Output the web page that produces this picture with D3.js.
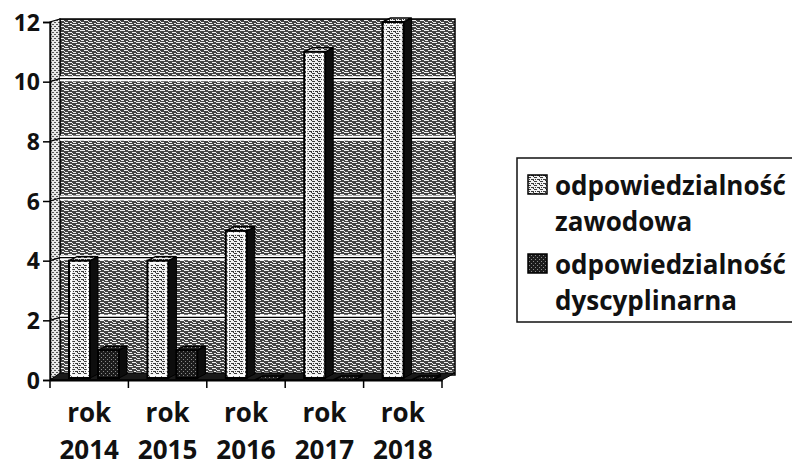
<!DOCTYPE html>
<html><head><meta charset="utf-8">
<script src="https://cdn.jsdelivr.net/npm/d3@7"></script>
<style>
body{margin:0;background:#fff}
text{font-family:"Open Sans",sans-serif;font-weight:700;fill:#111}
</style>
</head><body>
<svg id="c" width="792" height="468"></svg>
<script>
// ---- data ----
const categories = ["2014", "2015", "2016", "2017", "2018"];
const categoryPrefix = "rok";
const seriesNames = ["odpowiedzialność zawodowa", "odpowiedzialność dyscyplinarna"];
const legendLines = [["odpowiedzialność", "zawodowa"], ["odpowiedzialność", "dyscyplinarna"]];
const zawodowa = [4, 4, 5, 11, 12];
const dyscyplinarna = [1, 1, 0, 0, 0];
const yTicks = [0, 2, 4, 6, 8, 10, 12];

// ---- setup ----
const svg = d3.select("#c");
const defs = svg.append("defs");

function pattern(id, w, h, bg, rects, col) {
  const p = defs.append("pattern").attr("id", id).attr("width", w).attr("height", h)
    .attr("patternUnits", "userSpaceOnUse");
  p.append("rect").attr("width", w).attr("height", h).attr("fill", bg);
  rects.forEach(r => p.append("rect").attr("x", r[0]).attr("y", r[1]).attr("width", r[2]).attr("height", r[3]).attr("fill", col));
}
pattern("wall", 8, 6, "#444", [[0,0,5,1],[4,2,4,1],[1,4,3,1],[6,5,2,1],[0,3,1,1]], "#f0f0f0");
pattern("side", 4, 4, "#e8e8e8", [[0,0,2,1],[2,2,2,1]], "#555");
pattern("light", 6, 4, "#f2f2f2", [[0,1,3,1],[3,3,3,1],[5,0,1,1],[1,3,1,1]], "#3a3a3a");
pattern("dark", 4, 4, "#1c1c1c", [[1,1,1,1],[3,3,1,1]], "#8a8a8a");

const y = d3.scaleLinear().domain([0, 12]).range([380, 22]);
const x0 = d3.scaleBand().domain(categories).range([50, 442]).paddingInner(0).paddingOuter(0);
const x1 = d3.scaleBand().domain(seriesNames).range([19, 77]);
const wallDx = 10, wallDy = 5;
const barDx = 8, barDy = 4;
const xLeft = 50, xRight = 442;

// ---- walls ----
const g = svg.append("g");
g.append("rect").attr("x", xLeft + wallDx).attr("y", y(12) - wallDy + 2)
  .attr("width", xRight - xLeft + 3).attr("height", y(0) - y(12) - 2)
  .attr("fill", "url(#wall)").attr("stroke", "#000").attr("stroke-width", 1.5);
g.append("path").attr("d", `M${xLeft},${y(0)} L${xLeft + wallDx},${y(0) - wallDy} L${xLeft + wallDx},${y(12) - wallDy + 2} L${xLeft},${y(12)} Z`)
  .attr("fill", "url(#side)").attr("stroke", "#000").attr("stroke-width", 1.2);
yTicks.filter(v => v > 0 && v < 12).forEach(v => {
  const yy = y(v) - wallDy + 2;
  g.append("line").attr("x1", xLeft + wallDx).attr("x2", xRight + wallDx + 3).attr("y1", yy).attr("y2", yy)
    .attr("stroke", "#fff").attr("stroke-width", 5);
  g.append("line").attr("x1", xLeft + wallDx).attr("x2", xRight + wallDx + 3).attr("y1", yy).attr("y2", yy)
    .attr("stroke", "#000").attr("stroke-width", 1.3);
  g.append("line").attr("x1", xLeft).attr("x2", xLeft + wallDx).attr("y1", y(v)).attr("y2", yy)
    .attr("stroke", "#000").attr("stroke-width", 1.3);
});
g.append("path").attr("d", `M${xLeft},${y(0)} L${xLeft + wallDx},${y(0) - wallDy - 2} L${xRight + wallDx + 3},${y(0) - wallDy - 2} L${xRight},${y(0)} Z`)
  .attr("fill", "#1a1a1a").attr("stroke", "#000");

// ---- bars ----
function bar3d(gx, bx, w, yTop, yBase, pat) {
  gx.append("path").attr("d", `M${bx + w},${yBase} L${bx + w + barDx},${yBase - barDy} L${bx + w + barDx},${yTop - barDy} L${bx + w},${yTop} Z`)
    .attr("fill", "#0d0d0d").attr("stroke", "#000");
  gx.append("path").attr("d", `M${bx},${yTop} L${bx + barDx},${yTop - barDy} L${bx + w + barDx},${yTop - barDy} L${bx + w},${yTop} Z`)
    .attr("fill", `url(#${pat})`).attr("stroke", "#000").attr("stroke-width", 1.5);
  gx.append("rect").attr("x", bx).attr("y", yTop).attr("width", w).attr("height", Math.max(0, yBase - yTop))
    .attr("fill", `url(#${pat})`).attr("stroke", "#000").attr("stroke-width", 2);
  if (yBase - yTop > 6 && pat === "light") {
    gx.append("rect").attr("x", bx + 2.5).attr("y", yTop + 2.5).attr("width", w - 5).attr("height", yBase - yTop - 5)
      .attr("fill", "none").attr("stroke", "#fff").attr("stroke-width", 1.5);
  }
}
const seriesData = [zawodowa, dyscyplinarna];
const patterns = ["light", "dark"];
categories.forEach((c, i) => {
  const gc = svg.append("g");
  seriesNames.forEach((s, j) => {
    const w = x1.bandwidth() - barDx;
    bar3d(gc, x0(c) + x1(s), w, y(seriesData[j][i]), y(0) - 2, patterns[j]);
  });
});

// ---- axes ----
const yAxis = svg.append("g").attr("transform", `translate(${xLeft},0)`)
  .call(d3.axisLeft(y).tickValues(yTicks).tickSize(7).tickPadding(3).tickFormat(d3.format("d")));
yAxis.select(".domain").attr("stroke", "#000").attr("stroke-width", 1.5);
yAxis.selectAll(".tick line").attr("stroke", "#000").attr("stroke-width", 1.5);
yAxis.selectAll(".tick text").attr("font-size", 23).attr("dy", "0.36em").attr("fill", "#111")
  .style("font-family", "'Open Sans',sans-serif").style("font-weight", 700);

const xAxis = svg.append("g").attr("transform", `translate(0,${y(0)})`)
  .call(d3.axisBottom(x0).tickSize(0).tickFormat(""));
xAxis.select(".domain").attr("stroke", "#000").attr("stroke-width", 2);
xAxis.selectAll(".tick").remove();
const bounds = categories.map(c => x0(c)).concat([xRight]);
xAxis.selectAll("line.b").data(bounds).enter().append("line")
  .attr("x1", d => d).attr("x2", d => d).attr("y1", 0).attr("y2", 8)
  .attr("stroke", "#000").attr("stroke-width", 1.5);
const lab = svg.append("g");
categories.forEach(c => {
  const cx = x0(c) + x0.bandwidth() / 2;
  lab.append("text").attr("x", cx).attr("y", 422).attr("text-anchor", "middle").attr("font-size", 26).text(categoryPrefix);
  lab.append("text").attr("x", cx).attr("y", 459).attr("text-anchor", "middle").attr("font-size", 26).text(c);
});

// ---- legend ----
const lg = svg.append("g");
lg.append("rect").attr("x", 517).attr("y", 158).attr("width", 290).attr("height", 164)
  .attr("fill", "#fff").attr("stroke", "#111").attr("stroke-width", 1.5);
const legY = [195, 274];
seriesNames.forEach((s, j) => {
  lg.append("rect").attr("x", 528).attr("y", legY[j] - 20).attr("width", 19).attr("height", 19)
    .attr("fill", `url(#${patterns[j]})`).attr("stroke", "#000").attr("stroke-width", 1.5);
  legendLines[j].forEach((t, k) => {
    lg.append("text").attr("x", 555).attr("y", legY[j] + k * 36).attr("font-size", 26).text(t);
  });
});
</script>
</body></html>
